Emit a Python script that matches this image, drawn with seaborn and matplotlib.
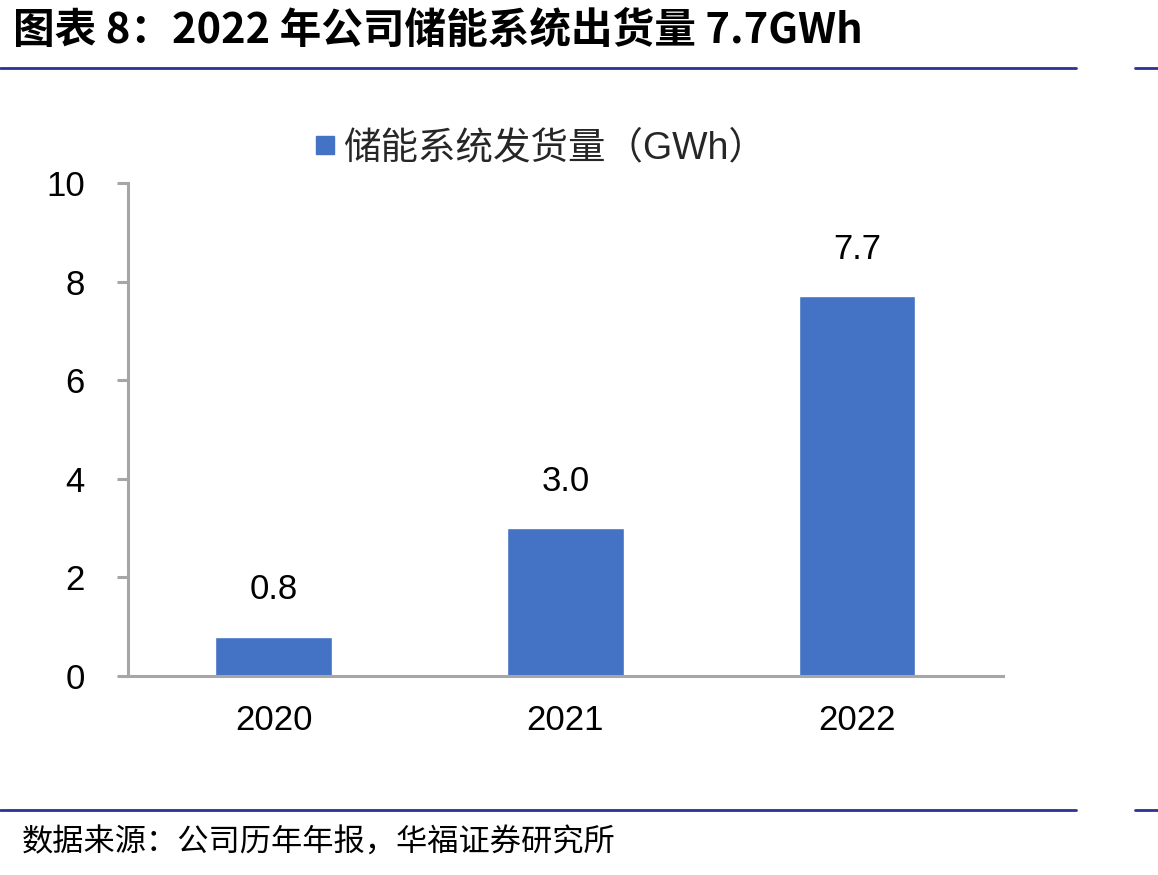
import matplotlib
matplotlib.use("Agg")
import matplotlib.pyplot as plt
import seaborn as sns
import pandas as pd
from matplotlib.lines import Line2D

years = ["2020", "2021", "2022"]
shipments = [0.8, 3.0, 7.7]
value_labels = ["0.8", "3.0", "7.7"]
series_name = "储能系统发货量（GWh）"
title_text = "图表 8：2022 年公司储能系统出货量 7.7GWh"
source_text = "数据来源：公司历年年报，华福证券研究所"
yticks = [0, 2, 4, 6, 8, 10]

sns.set_theme(style="white")
plt.rcParams['font.family'] = ['Liberation Sans', 'Noto Sans CJK SC', 'DejaVu Sans']

df = pd.DataFrame({"year": years, "value": shipments})

fig = plt.figure(figsize=(11.58, 8.75), dpi=100)
ax = fig.add_axes([0.1105, 0.2274, 0.7556, 0.5634])

bar_color = "#4472C4"
sns.barplot(data=df, x="year", y="value", color=bar_color, saturation=1,
            width=0.4, ax=ax, label=series_name)

ax.set_xlim(-0.5, 2.5)
ax.set_ylim(0, 10)
ax.set_yticks(yticks)
ax.set_xlabel("")
ax.set_ylabel("")

axis_color = "#A6A6A6"
for s in ["top", "right"]:
    ax.spines[s].set_visible(False)
for s in ["left", "bottom"]:
    ax.spines[s].set_color(axis_color)
    ax.spines[s].set_linewidth(2.2)

ax.tick_params(axis="y", direction="out", length=8, width=2.2, color=axis_color,
               pad=23, labelsize=25, labelcolor="black", left=True)
ax.tick_params(axis="x", length=0, pad=20, labelsize=25, labelcolor="black")

for i, (v, lab) in enumerate(zip(shipments, value_labels)):
    ax.annotate(lab, xy=(i, v), xytext=(0, 22), textcoords="offset points",
                ha="center", va="bottom", fontsize=25, color="black")

# legend
handle = Line2D([0], [0], marker="s", linestyle="none", markersize=13,
                markerfacecolor=bar_color, markeredgecolor=bar_color)
leg = ax.legend([handle], [series_name], loc="center",
                bbox_to_anchor=(0.467, 0.831), bbox_transform=fig.transFigure,
                frameon=False, handlelength=0.5, handletextpad=0.25,
                borderpad=0, prop={'family': ['Liberation Sans', 'Noto Sans CJK SC'], 'size': 27})

# title and decorations
fig.text(0.011, 1 - 31 / 875, title_text, ha="left", va="center",
         fontsize=30, fontweight="bold",
         family=['Noto Sans CJK SC', 'DejaVu Sans'], color="black")
line_color = "#2E3192"
for yy in [68, 810]:
    fy = 1 - yy / 875
    fig.add_artist(Line2D([0, 1076 / 1158], [fy, fy], color=line_color, lw=2,
                          transform=fig.transFigure))
    fig.add_artist(Line2D([1135 / 1158, 1], [fy, fy], color=line_color, lw=2,
                          transform=fig.transFigure))
fig.text(0.019, 1 - 843 / 875, source_text, ha="left", va="center",
         fontsize=22.5, family=['Noto Sans CJK SC', 'DejaVu Sans'], color="black")

fig.savefig("out.png", dpi=100)
